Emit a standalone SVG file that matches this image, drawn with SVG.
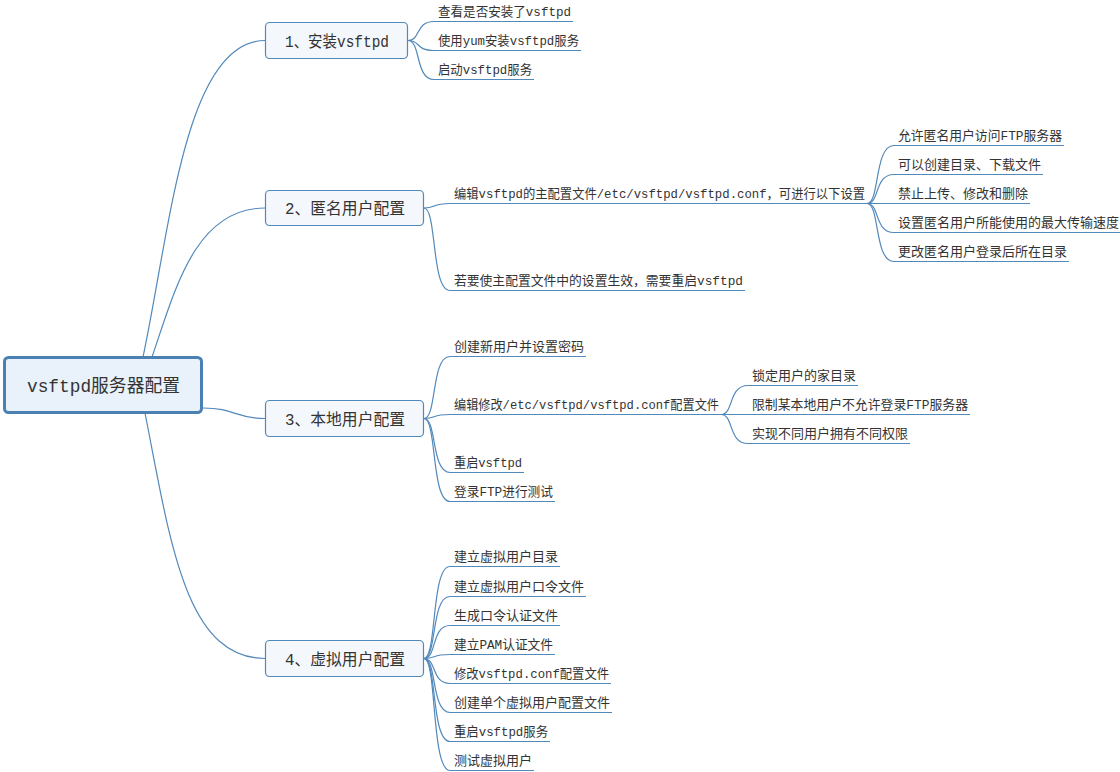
<svg xmlns="http://www.w3.org/2000/svg" width="1120" height="772" viewBox="0 0 1120 772">
<style>
text{font-family:"Liberation Mono","Noto Sans CJK SC",monospace;fill:#333;}
.leaf{font-size:13px;}
.title{font-size:16px;}
.roott{font-size:18px;}
.c path{fill:none;stroke:#5289bb;stroke-width:1.2;}
.box{fill:#f4f8fc;stroke:#5289bb;stroke-width:1.2;}
.rootbox{fill:#e9f1fa;stroke:#4a80b2;stroke-width:3;}
</style>
<rect width="1120" height="772" fill="#fff"/>
<g id="connectors" class="c">
<path d="M143,357 C170,230 185,40.5 265,40.5"/>
<path d="M152,357 C175,290 195,208 265,208"/>
<path d="M203,408 C235,408 235,418.5 265,418.5"/>
<path d="M145,413 C170,540 185,658.5 265,658.5"/>
<path d="M408,40.5 C421,40.5 415,21.5 434,21.5 H573"/>
<path d="M408,40.5 C421,40.5 415,50.5 434,50.5 H581"/>
<path d="M408,40.5 C421,40.5 415,79.5 434,79.5 H534"/>
<path d="M424,208 C437,208 431,203.5 450,203.5 H867"/>
<path d="M424,208 C437,208 431,290.5 450,290.5 H745"/>
<path d="M867,203.5 C880,203.5 874,145.5 894,145.5 H1064"/>
<path d="M867,203.5 C880,203.5 874,174.5 894,174.5 H1043"/>
<path d="M867,203.5 H1030"/>
<path d="M867,203.5 C880,203.5 874,232.5 894,232.5 H1120"/>
<path d="M867,203.5 C880,203.5 874,261.5 894,261.5 H1069"/>
<path d="M424,418.5 C437,418.5 431,356.5 450,356.5 H586"/>
<path d="M424,418.5 C437,418.5 431,414.5 450,414.5 H721"/>
<path d="M424,418.5 C437,418.5 431,472.5 450,472.5 H524"/>
<path d="M424,418.5 C437,418.5 431,501.5 450,501.5 H555"/>
<path d="M721,414.5 C734,414.5 728,385.5 748,385.5 H858"/>
<path d="M721,414.5 H970"/>
<path d="M721,414.5 C734,414.5 728,443.5 748,443.5 H910"/>
<path d="M424,658.5 C437,658.5 431,566.5 450,566.5 H560"/>
<path d="M424,658.5 C437,658.5 431,596.5 450,596.5 H586"/>
<path d="M424,658.5 C437,658.5 431,625.5 450,625.5 H560"/>
<path d="M424,658.5 C437,658.5 431,654.5 450,654.5 H555"/>
<path d="M424,658.5 C437,658.5 431,683.5 450,683.5 H611"/>
<path d="M424,658.5 C437,658.5 431,712.5 450,712.5 H612"/>
<path d="M424,658.5 C437,658.5 431,741.5 450,741.5 H550"/>
<path d="M424,658.5 C437,658.5 431,770.5 450,770.5 H534"/>
</g>
<g id="root">
<rect class="rootbox" x="4.5" y="357.5" width="197" height="55" rx="4"/>
<text class="roott" x="27" y="392" textLength="153" lengthAdjust="spacingAndGlyphs">vsftpd服务器配置</text>
</g>
<g id="n1">
<rect class="box" x="265.5" y="22.5" width="142" height="36" rx="4"/>
<text class="title" x="285" y="46.5" textLength="104" lengthAdjust="spacingAndGlyphs">1、安装vsftpd</text>
</g>
<g id="n1a"><text class="leaf" x="438" y="15.5" textLength="133" lengthAdjust="spacingAndGlyphs">查看是否安装了vsftpd</text></g>
<g id="n1b"><text class="leaf" x="438" y="44.5" textLength="141" lengthAdjust="spacingAndGlyphs">使用yum安装vsftpd服务</text></g>
<g id="n1c"><text class="leaf" x="438" y="73.5" textLength="94" lengthAdjust="spacingAndGlyphs">启动vsftpd服务</text></g>
<g id="n2">
<rect class="box" x="265.5" y="190.5" width="158" height="35" rx="4"/>
<text class="title" x="285" y="214" textLength="120" lengthAdjust="spacingAndGlyphs">2、匿名用户配置</text>
</g>
<g id="n2a"><text class="leaf" x="454" y="197.5" textLength="411" lengthAdjust="spacingAndGlyphs">编辑vsftpd的主配置文件/etc/vsftpd/vsftpd.conf，可进行以下设置</text></g>
<g id="n2b"><text class="leaf" x="454" y="284.5" textLength="289" lengthAdjust="spacingAndGlyphs">若要使主配置文件中的设置生效，需要重启vsftpd</text></g>
<g id="n2a1"><text class="leaf" x="898" y="139.5" textLength="164" lengthAdjust="spacingAndGlyphs">允许匿名用户访问FTP服务器</text></g>
<g id="n2a2"><text class="leaf" x="898" y="168.5" textLength="143" lengthAdjust="spacingAndGlyphs">可以创建目录、下载文件</text></g>
<g id="n2a3"><text class="leaf" x="898" y="197.5" textLength="130" lengthAdjust="spacingAndGlyphs">禁止上传、修改和删除</text></g>
<g id="n2a4"><text class="leaf" x="898" y="226.5" textLength="221" lengthAdjust="spacingAndGlyphs">设置匿名用户所能使用的最大传输速度</text></g>
<g id="n2a5"><text class="leaf" x="898" y="255.5" textLength="169" lengthAdjust="spacingAndGlyphs">更改匿名用户登录后所在目录</text></g>
<g id="n3">
<rect class="box" x="265.5" y="400.5" width="158" height="36" rx="4"/>
<text class="title" x="285" y="424.5" textLength="120" lengthAdjust="spacingAndGlyphs">3、本地用户配置</text>
</g>
<g id="n3a"><text class="leaf" x="454" y="350.5" textLength="130" lengthAdjust="spacingAndGlyphs">创建新用户并设置密码</text></g>
<g id="n3b"><text class="leaf" x="454" y="408.5" textLength="265" lengthAdjust="spacingAndGlyphs">编辑修改/etc/vsftpd/vsftpd.conf配置文件</text></g>
<g id="n3c"><text class="leaf" x="454" y="466.5" textLength="68" lengthAdjust="spacingAndGlyphs">重启vsftpd</text></g>
<g id="n3d"><text class="leaf" x="454" y="495.5" textLength="99" lengthAdjust="spacingAndGlyphs">登录FTP进行测试</text></g>
<g id="n3b1"><text class="leaf" x="752" y="379.5" textLength="104" lengthAdjust="spacingAndGlyphs">锁定用户的家目录</text></g>
<g id="n3b2"><text class="leaf" x="752" y="408.5" textLength="216" lengthAdjust="spacingAndGlyphs">限制某本地用户不允许登录FTP服务器</text></g>
<g id="n3b3"><text class="leaf" x="752" y="437.5" textLength="156" lengthAdjust="spacingAndGlyphs">实现不同用户拥有不同权限</text></g>
<g id="n4">
<rect class="box" x="265.5" y="640.5" width="158" height="36" rx="4"/>
<text class="title" x="285" y="664.5" textLength="120" lengthAdjust="spacingAndGlyphs">4、虚拟用户配置</text>
</g>
<g id="n4a"><text class="leaf" x="454" y="560.5" textLength="104" lengthAdjust="spacingAndGlyphs">建立虚拟用户目录</text></g>
<g id="n4b"><text class="leaf" x="454" y="590.5" textLength="130" lengthAdjust="spacingAndGlyphs">建立虚拟用户口令文件</text></g>
<g id="n4c"><text class="leaf" x="454" y="619.5" textLength="104" lengthAdjust="spacingAndGlyphs">生成口令认证文件</text></g>
<g id="n4d"><text class="leaf" x="454" y="648.5" textLength="99" lengthAdjust="spacingAndGlyphs">建立PAM认证文件</text></g>
<g id="n4e"><text class="leaf" x="454" y="677.5" textLength="155" lengthAdjust="spacingAndGlyphs">修改vsftpd.conf配置文件</text></g>
<g id="n4f"><text class="leaf" x="454" y="706.5" textLength="156" lengthAdjust="spacingAndGlyphs">创建单个虚拟用户配置文件</text></g>
<g id="n4g"><text class="leaf" x="454" y="735.5" textLength="94" lengthAdjust="spacingAndGlyphs">重启vsftpd服务</text></g>
<g id="n4h"><text class="leaf" x="454" y="764.5" textLength="78" lengthAdjust="spacingAndGlyphs">测试虚拟用户</text></g>
</svg>
